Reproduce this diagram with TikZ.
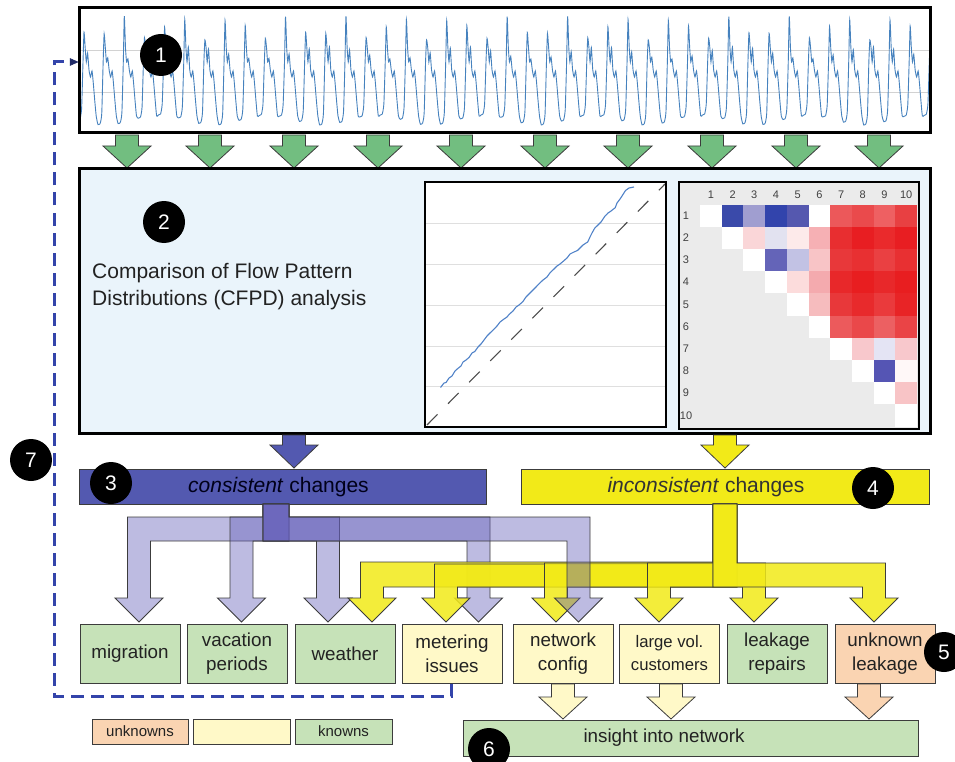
\documentclass[tikz,border=0pt]{standalone}
\usepackage{fontspec}
\setmainfont{Liberation Sans}
\usetikzlibrary{arrows.meta}
\definecolor{panelblue}{RGB}{234,244,251}
\definecolor{garrow}{RGB}{114,190,128}
\definecolor{conscol}{RGB}{83,89,176}
\definecolor{purpl}{RGB}{100,95,185}
\definecolor{yell}{RGB}{242,234,24}
\definecolor{kgreen}{RGB}{198,226,184}
\definecolor{lyell}{RGB}{255,249,200}
\definecolor{peach}{RGB}{250,212,178}
\definecolor{loopblue}{RGB}{51,68,170}
\definecolor{tsblue}{RGB}{70,130,190}
\definecolor{outl}{RGB}{60,60,60}
\definecolor{txt}{RGB}{34,34,34}
\definecolor{hmgray}{RGB}{235,235,235}

\newcommand{\bdarrow}[5]{\draw[#5] (#1-11.5,#2) -- (#1+11.5,#2) -- (#1+11.5,#3) -- (#1+24,#3) -- (#1,#4) -- (#1-24,#3) -- (#1-11.5,#3) -- cycle;}
\newcommand{\purleft}[1]{\draw[parr] (263,504) -- (289,504) -- (289,541) -- (#1+11.5,541) -- (#1+11.5,598) -- (#1+24,598) -- (#1,622) -- (#1-24,598) -- (#1-11.5,598) -- (#1-11.5,517) -- (263,517) -- cycle;}
\newcommand{\purright}[1]{\draw[parr] (263,504) -- (289,504) -- (289,517) -- (#1+11.5,517) -- (#1+11.5,598) -- (#1+24,598) -- (#1,622) -- (#1-24,598) -- (#1-11.5,598) -- (#1-11.5,541) -- (263,541) -- cycle;}
\newcommand{\yelleft}[2]{\draw[yarr] (713,504) -- (737,504) -- (737,587) -- (#1+11.5,587) -- (#1+11.5,598) -- (#1+24,598) -- (#1,622) -- (#1-24,598) -- (#1-11.5,598) -- (#1-11.5,#2) -- (713,#2) -- cycle;}
\newcommand{\yelright}[1]{\draw[yarr] (713,504) -- (737,504) -- (737,563) -- (#1+11.5,563) -- (#1+11.5,598) -- (#1+24,598) -- (#1,622) -- (#1-24,598) -- (#1-11.5,598) -- (#1-11.5,587) -- (713,587) -- cycle;}
\newcommand{\hcell}[5]{\fill[fill={rgb,255:red,#3;green,#4;blue,#5}] (700+21.7*#2-21.7,204.5+22.2*#1-22.2) rectangle ++(21.7,22.2);}

\begin{document}
\begin{tikzpicture}[x=1pt,y=-1pt,
  panel/.style={draw=black, line width=3pt},
  garr/.style={fill=garrow, draw=outl, line width=0.8pt},
  parr/.style={fill=purpl, fill opacity=0.42, draw=outl, line width=0.9pt},
  yarr/.style={fill=yell, fill opacity=0.85, draw=outl, line width=0.9pt},
  cbox/.style={draw=outl, line width=1pt, minimum height=59pt, minimum width=100pt, align=center, inner sep=1pt, text=txt, font=\fontsize{18.8}{24}\selectfont},
  lbox/.style={draw=outl, line width=1pt, minimum height=25pt, minimum width=96pt, inner sep=0pt, text=txt, font=\fontsize{15}{15}\selectfont},
  numc/.style={circle, fill=black, text=white, minimum size=42pt, inner sep=0pt, font=\fontsize{21}{21}\selectfont},
  tsline/.style={draw=tsblue, line width=0.9pt},
  bigtxt/.style={text=txt, font=\fontsize{21}{27}\selectfont, inner sep=0pt},
  hlab/.style={text=black!75, font=\fontsize{11}{11}\selectfont, inner sep=0pt},
  loopline/.style={draw=loopblue, line width=3pt, dash pattern=on 13pt off 7pt}
]
\useasboundingbox (0,0) rectangle (955,762);
\clip (0,0) rectangle (955,762);
\fill[white] (0,0) rectangle (955,762);

% ---------- panel 1: time series ----------
\begin{scope}
\clip (79,8) rectangle (930,133);
\draw[gray!35, line width=0.6pt] (79,50.5) -- (930,50.5) (79,92) -- (930,92);
\foreach \i in {0,...,42}{
  \pgfmathsetmacro{\xa}{80+20.15*\i}
  \pgfmathsetmacro{\ta}{119+5*sin(\i*67)}
  \pgfmathsetmacro{\tb}{119+5*sin((\i+1)*67)}
  \pgfmathsetmacro{\pk}{28+12*sin(\i*131+20)}
  \pgfmathsetmacro{\sb}{53+6*sin(\i*53)}
  \draw[tsline] plot[smooth, tension=0.35] coordinates {(\xa,\ta) (\xa+1.6,\ta-10) (\xa+3,62) (\xa+4,\pk) (\xa+5.2,48) (\xa+6.3,62) (\xa+7.6,\sb) (\xa+9,70) (\xa+10.5,77) (\xa+12,71) (\xa+13.2,82) (\xa+14.7,100) (\xa+16.2,116) (\xa+18,\tb+1) (\xa+20.15,\tb)};
}
\end{scope}
\node[panel, minimum width=851pt, minimum height=125pt, inner sep=0pt] (p1) at (504.5,70.5) {};

% green arrows
\foreach \gx in {127,210,294,378,461,545,628,712,796,879}{
  \bdarrow{\gx}{135}{146}{168}{garr}
}

% ---------- panel 2 ----------
\node[panel, fill=panelblue, minimum width=851pt, minimum height=264pt, inner sep=0pt] (p2) at (504.5,301) {};
\node[bigtxt, anchor=base west] (cfpda) at (92,278) {Comparison of Flow Pattern};
\node[bigtxt, anchor=base west] (cfpdb) at (92,305) {Distributions (CFPD) analysis};

% QQ plot
\fill[white] (425,182) rectangle (666,427);
\foreach \yy in {223,264,305,346,386} \draw[gray!25, line width=0.8pt] (426,\yy) -- (665,\yy);
\draw[black!70, line width=1.1pt, dash pattern=on 15pt off 15pt] (427,425) -- (665,184);
\draw[draw={rgb,255:red,80;green,130;blue,200}, line width=1.1pt, line join=round] (440.5,387.5) -- (444,383) -- (446,382.5) -- (449,378) -- (452,376) -- (455,371) -- (457.7,368.6) -- (461,366) -- (463,362) -- (466,360) -- (469,357.5) -- (472,353) -- (474.8,351.5) -- (478,347) -- (481,344) -- (484,340) -- (487,336) -- (490,333) -- (493.6,329.5) -- (497,326) -- (500,322) -- (504,319) -- (507,317) -- (509,314.5) -- (513,311) -- (516,307) -- (519,305) -- (522.7,301.8) -- (526,297) -- (529,294) -- (532,291) -- (535,288) -- (539.9,283) -- (543,280) -- (547,277) -- (550.1,272.7) -- (554,269) -- (557,266) -- (560,264) -- (563.8,260.8) -- (567,258) -- (570,254) -- (574,252) -- (577.5,250.5) -- (580,248) -- (583,245) -- (587.8,241.9) -- (590,237) -- (592,233) -- (594.7,228.2) -- (598,225) -- (601,222) -- (604.9,216.2) -- (608,213) -- (611,211) -- (615.2,207.7) -- (617,203) -- (620,199) -- (622,196) -- (625.5,190.5) -- (629,188) -- (634,187);
\node[draw=black, line width=2pt, minimum width=241pt, minimum height=245pt, inner sep=0pt] (qq) at (545.5,304.5) {};

% heat map
\fill[hmgray] (678.5,182) rectangle (919,428.5);
\hcell{1}{1}{255}{255}{255}\hcell{1}{2}{58}{74}{170}\hcell{1}{3}{160}{158}{208}\hcell{1}{4}{50}{68}{172}\hcell{1}{5}{85}{88}{175}\hcell{1}{6}{255}{255}{255}\hcell{1}{7}{236}{88}{90}\hcell{1}{8}{234}{74}{76}\hcell{1}{9}{238}{96}{98}\hcell{1}{10}{232}{64}{66}
\hcell{2}{2}{255}{255}{255}\hcell{2}{3}{250}{214}{216}\hcell{2}{4}{226}{226}{240}\hcell{2}{5}{253}{234}{234}\hcell{2}{6}{246}{176}{180}\hcell{2}{7}{232}{46}{48}\hcell{2}{8}{232}{30}{34}\hcell{2}{9}{234}{42}{44}\hcell{2}{10}{232}{30}{34}
\hcell{3}{3}{255}{255}{255}\hcell{3}{4}{100}{100}{184}\hcell{3}{5}{194}{194}{228}\hcell{3}{6}{248}{196}{198}\hcell{3}{7}{232}{56}{58}\hcell{3}{8}{232}{48}{50}\hcell{3}{9}{234}{64}{66}\hcell{3}{10}{232}{48}{50}
\hcell{4}{4}{255}{255}{255}\hcell{4}{5}{252}{220}{220}\hcell{4}{6}{244}{170}{174}\hcell{4}{7}{232}{40}{42}\hcell{4}{8}{232}{30}{32}\hcell{4}{9}{232}{40}{42}\hcell{4}{10}{232}{30}{32}
\hcell{5}{5}{255}{255}{255}\hcell{5}{6}{246}{188}{190}\hcell{5}{7}{232}{56}{58}\hcell{5}{8}{232}{42}{44}\hcell{5}{9}{234}{58}{60}\hcell{5}{10}{232}{36}{38}
\hcell{6}{6}{255}{255}{255}\hcell{6}{7}{236}{90}{92}\hcell{6}{8}{234}{72}{74}\hcell{6}{9}{236}{96}{98}\hcell{6}{10}{234}{68}{70}
\hcell{7}{7}{255}{255}{255}\hcell{7}{8}{248}{200}{204}\hcell{7}{9}{228}{228}{244}\hcell{7}{10}{248}{200}{204}
\hcell{8}{8}{255}{255}{255}\hcell{8}{9}{85}{85}{180}\hcell{8}{10}{255}{248}{248}
\hcell{9}{9}{255}{255}{255}\hcell{9}{10}{248}{196}{198}
\hcell{10}{10}{255}{255}{255}
\foreach \k in {1,...,10}{
  \node[hlab] (cl\k) at (700+21.7*\k-10.85,194.5) {\k};
  \node[hlab] (rl\k) at (686,204.5+22.2*\k-11.1) {\k};
}
\node[draw=black, line width=2pt, minimum width=240.5pt, minimum height=246.5pt, inner sep=0pt] (hm) at (798.75,305.25) {};

% arrows out of panel 2
\bdarrow{294}{435}{445}{468}{fill=conscol, draw=outl, line width=0.8pt}
\bdarrow{725}{435}{445}{468}{fill=yell, draw=outl, line width=0.8pt}

% boxes 3 and 4
\node[fill=conscol, draw=outl, line width=0.8pt, minimum width=407pt, minimum height=35pt, inner sep=0pt] (cons) at (282.5,486.5) {};
\node[text=black!90!blue, font=\fontsize{21}{21}\selectfont, inner sep=0pt] (consT) at (278.5,487) {\textit{consistent} changes};
\node[fill=yell, draw=outl, line width=0.8pt, minimum width=408pt, minimum height=35pt, inner sep=0pt] (incons) at (725,486.5) {};
\node[text=black!80, font=\fontsize{21}{21}\selectfont, inner sep=0pt] (inconsT) at (706,487) {\textit{inconsistent} changes};

% purple branch arrows (first group)
\purleft{139}
\purleft{241.5}
\purright{328}
\purright{478.5}
% yellow branch arrows
\yelleft{372}{562}
\yelleft{446}{564}
\yelleft{556}{563}
\yelleft{659}{563}
\yelright{754}
\yelright{874}
% purple arrow drawn over the yellow ones
\purright{578.5}

% cause boxes
\node[cbox, fill=kgreen] (mig) at (130,653.5) {migration};
\node[cbox, fill=kgreen] (vac) at (237,653.5) {vacation\\periods};
\node[cbox, fill=kgreen] (wea) at (345,653.5) {weather};
\node[cbox, fill=lyell] (met) at (452,653.5) {metering\\issues};
\node[cbox, fill=lyell] (net) at (563,653.5) {network\\config};
\node[cbox, fill=lyell, font=\fontsize{16.7}{23}\selectfont] (lvc) at (669.5,653.5) {large vol.\\customers};
\node[cbox, fill=kgreen] (rep) at (777,653.5) {leakage\\repairs};
\node[cbox, fill=peach] (unk) at (885,653.5) {unknown\\leakage};

% arrows to insight
\bdarrow{563}{684}{697}{719}{fill=lyell, draw=outl, line width=0.8pt}
\bdarrow{671}{684}{697}{719}{fill=lyell, draw=outl, line width=0.8pt}
\bdarrow{869}{684}{697}{719}{fill=peach, draw=outl, line width=0.8pt}

\node[draw=outl, line width=1pt, fill=kgreen, minimum width=455pt, minimum height=36pt, inner sep=0pt] (ins) at (690.5,738) {};
\node[text=txt, font=\fontsize{18.8}{18.8}\selectfont, inner sep=0pt] (insT) at (664,738) {insight into network};

% legend
\node[lbox, fill=peach] (lg1) at (140,731.5) {unknowns};
\node[lbox, fill=lyell, minimum width=97pt] (lg2) at (241.5,731.5) {};
\node[lbox, fill=kgreen, minimum width=97pt] (lg3) at (343.5,731.5) {knowns};

% feedback loop
\coordinate (loopend) at (78,62);
\draw[loopline] (met.south -| 451,0) -- (451,696) -- (54,696) -- (54,62) -- (70,62);
\draw[draw=loopblue!60!black, fill=loopblue!60!black, line width=0.5pt] (70,58.5) -- (loopend) -- (70,65.5) -- cycle;

% numbered circles
\node[numc] (n1) at (161,55) {1};
\node[numc] (n2) at (164,222) {2};
\node[numc] (n3) at (111,483) {3};
\node[numc] (n4) at (873,488) {4};
\node[numc, minimum size=40pt] (n5) at (944,652) {5};
\node[numc] (n6) at (489,749) {6};
\node[numc] (n7) at (31,460) {7};
\end{tikzpicture}
\end{document}
